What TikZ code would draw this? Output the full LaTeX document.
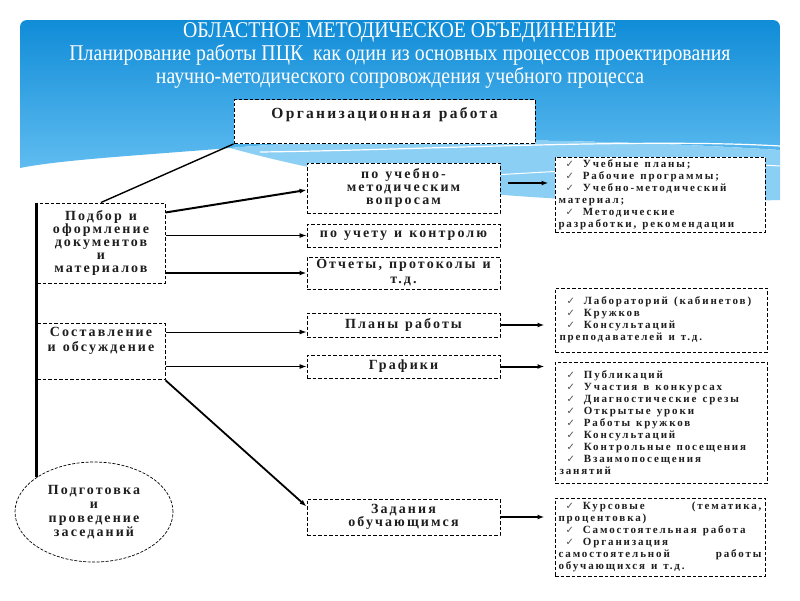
\documentclass[tikz,border=0pt]{standalone}
\usepackage{fontspec}
\setmainfont{Liberation Serif}
\newfontfamily\titlefont{Liberation Serif}[FakeStretch=0.88]
\newfontfamily\boxfont{Liberation Serif Bold}[LetterSpace=15]
\newfontfamily\orgfont{Liberation Serif Bold}[LetterSpace=15]
\newfontfamily\listfont{Liberation Serif Bold}[LetterSpace=17]
\newfontfamily\chkfont{DejaVu Sans}
\usetikzlibrary{arrows.meta,shapes.geometric,calc}
\definecolor{bannertop}{RGB}{16,140,215}
\definecolor{bannerbot}{RGB}{95,188,240}
\definecolor{swoosh}{RGB}{140,207,244}
\definecolor{chkgray}{RGB}{80,80,80}
\definecolor{inkgray}{RGB}{30,30,30}
\newcommand{\chk}{\hspace*{7pt}{\chkfont\fontsize{10}{12}\selectfont\color{chkgray}✓}\hspace{9pt}}
\newcommand{\boxsp}{\spaceskip=7pt plus 1pt\relax}
\newcommand{\orgsp}{\spaceskip=8pt plus 1pt\relax}
\newcommand{\listsp}{\spaceskip=6pt plus 1pt minus 0.5pt\xspaceskip=6pt plus 1pt\relax}
\begin{document}
\begin{tikzpicture}[x=1pt,y=-1pt,
  box/.style={draw, dash pattern=on 3.5pt off 2pt, line width=1pt, fill=white,
    inner sep=0pt, align=center, text=inkgray,
    font=\boxfont\fontsize{14}{13}\selectfont\boxsp},
  listbox/.style={draw, dash pattern=on 3.5pt off 2pt, line width=1pt, fill=white,
    inner xsep=3pt, inner ysep=0pt, text width=203pt, align=left, text=inkgray,
    font=\listfont\fontsize{11}{12}\selectfont, execute at begin node=\listsp},
  arr/.style={-{Latex[length=7pt,width=5pt]}},
  thin/.style={line width=0.9pt},
  thick/.style={line width=2pt}]
\useasboundingbox (0,0) rectangle (800,600);
\fill[white] (0,0) rectangle (800,600);
% banner
\shade[top color=bannertop, bottom color=bannerbot]
 {[rounded corners=7pt] (20,168) -- (20,20) -- (780,20) -- (780,60)} -- (780,150)
 .. controls (560,136) and (340,138) .. (230,148)
 .. controls (130,156) and (60,160) .. (20,168) -- cycle;
\fill[swoosh] (230,148) .. controls (340,138) and (560,136) .. (780,150) -- (780,200)
 .. controls (600,205) and (420,200) .. (230,148) -- cycle;
\draw[white, line width=1.2pt] (260,152) .. controls (420,150) and (640,138) .. (780,146);
\draw[white, line width=1pt] (380,180) .. controls (520,176) and (680,160) .. (780,166);
% title
\node[text=white, align=center, font=\titlefont\fontsize{22.5}{23}\selectfont] (title) at (400,55)
 {ОБЛАСТНОЕ МЕТОДИЧЕСКОЕ ОБЪЕДИНЕНИЕ\\
  Планирование работы ПЦК\ \ как один из основных процессов проектирования\\
  научно-методического сопровождения учебного процесса};
% nodes
\node[box, minimum width=301pt, text height=19pt, text depth=25pt,
  font=\orgfont\fontsize{15.5}{16}\selectfont\orgsp] (org) at (384.5,99) [anchor=north] {Организационная работа};
\node[box, minimum width=128pt, minimum height=80pt] (podbor) at (101,243)
 {Подбор и\\оформление\\документов\\и\\материалов};
\node[box, minimum width=128pt, inner ysep=4pt, anchor=north,
  font=\boxfont\fontsize{14}{15}\selectfont\boxsp] (sostav) at (101,323)
 {Составление\\и обсуждение\rule[-24pt]{0pt}{24pt}};
\node[box, minimum width=193pt, minimum height=50pt] (uch) at (403.5,188)
 {по учебно-\\методическим\\вопросам};
\node[box, minimum width=193pt, minimum height=23pt] (kontr) at (403.5,235.5)
 {по учету и контролю};
\node[box, minimum width=193pt, minimum height=32pt,
  font=\boxfont\fontsize{14}{15}\selectfont\boxsp] (otch) at (403.5,273)
 {Отчеты, протоколы и\\т.д.};
\node[box, minimum width=193pt, minimum height=24pt] (plany) at (403.5,325)
 {Планы работы};
\node[box, minimum width=193pt, minimum height=23pt] (graf) at (403.5,366.5)
 {Графики};
\node[box, minimum width=193pt, minimum height=36pt] (zad) at (403.5,517)
 {Задания\\обучающимся};
\node[box, ellipse, dash pattern=on 3pt off 1.5pt, line width=0.7pt,
  minimum width=158pt, minimum height=100pt,
  font=\boxfont\fontsize{14}{14}\selectfont] (podg) at (94,512)
 {Подготовка\\и\\проведение\\заседаний};
% lists
\node[listbox, minimum width=210pt, minimum height=75pt] (list1) at (660,194.5)
 {\chk Учебные планы;\\
  \chk Рабочие программы;\\
  \chk Учебно-методический\\
  материал;\\
  \chk Методические\\
  разработки, рекомендации};
\node[listbox, minimum width=212pt, minimum height=64pt] (list2) at (661,320)
 {\chk Лабораторий (кабинетов)\\
  \chk Кружков\\
  \chk Консультаций\\
  преподавателей и т.д.};
\node[listbox, minimum width=212pt, minimum height=121pt] (list3) at (661,422.5)
 {\chk Публикаций\\
  \chk Участия в конкурсах\\
  \chk Диагностические срезы\\
  \chk Открытые уроки\\
  \chk Работы кружков\\
  \chk Консультаций\\
  \chk Контрольные посещения\\
  \chk Взаимопосещения\\
  занятий};
\node[listbox, minimum width=210pt, minimum height=78pt] (list4) at (660,537)
 {\chk Курсовые\hfill(тематика,\\
  процентовка)\\
  \chk Самостоятельная работа\\
  \chk Организация\\
  самостоятельной\hfill работы\\
  обучающихся и т.д.};
% connectors
\draw[line width=2.2pt] (podbor.north west) -- (podbor.north west |- podg.148);
\draw[line width=1.4pt] (podbor.north) -- (org.south west);
\draw[arr, thick] ($(podbor.north east)+(0,10)$) -- ($(uch.west)+(0,2)$);
\draw[arr, thin] (podbor.east |- kontr.west) -- (kontr.west);
\draw[arr, thick] (podbor.east |- otch.west) -- (otch.west);
\draw[arr, thin] ($(sostav.north east)+(0,9)$) -- ($(plany.west)+(0,7)$);
\draw[arr, thin] (sostav.east |- graf.west) -- (graf.west);
\draw[arr, line width=1.8pt] (sostav.south east) -- ($(zad.north west)+(0,8)$);
\draw[arr, thick] ($(uch.east)+(7,-5)$) -- ($(list1.west |- uch.east)+(-6,-5)$);
\draw[arr, thick] (plany.east) -- ($(list2.west |- plany.east)+(-10,0)$);
\draw[arr, thick] (graf.east) -- ($(list3.west |- graf.east)+(-10,0)$);
\draw[arr, thick] (zad.east) -- ($(list4.west |- zad.east)+(-10,0)$);
\end{tikzpicture}
\end{document}
